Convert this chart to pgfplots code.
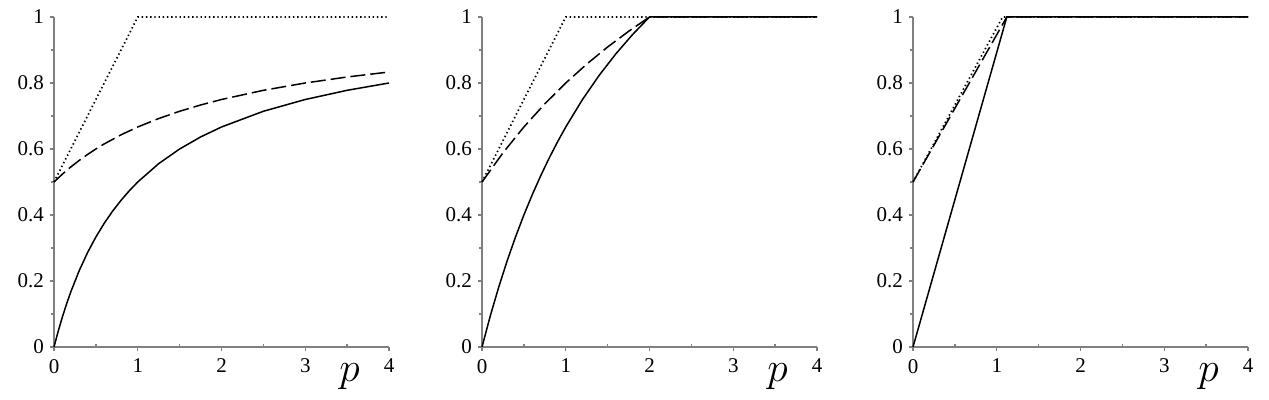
\documentclass[border=0pt]{standalone}
\usepackage{pgfplots}
\pgfplotsset{compat=1.18}
\usepackage{fontspec}
\setmainfont{Liberation Serif}
\definecolor{axisgray}{RGB}{128,128,128}
\pgfplotsset{
  panel/.style={
    scale only axis, width=167.5pt, height=165pt,
    xmin=0, xmax=4, ymin=0, ymax=1,
    axis x line*=bottom, axis y line*=left,
    axis line style={draw=axisgray, line width=1pt},
    xtick={0,1,2,3,4}, ytick={0,0.2,0.4,0.6,0.8,1},
    tick style={draw=axisgray, line width=0.7pt},
    tick align=outside, major tick length=2pt,
    extra x ticks={0.5,1.5,2.5,3.5}, extra x tick labels={},
    extra x tick style={tick align=inside, major tick length=1.5pt},
    extra y ticks={0.1,0.3,0.5,0.7,0.9}, extra y tick labels={},
    extra y tick style={tick align=outside, major tick length=1.5pt},
    /pgf/number format/assume math mode=true,
    xticklabel={\pgfmathprintnumber{\tick}},
    yticklabel={\pgfmathprintnumber{\tick}},
    ticklabel style={font=\rmfamily\fontsize{10.5}{12}\selectfont, text=black},
    yticklabel style={xshift=0.5pt},
    xticklabel style={yshift=-0.5pt},
    clip=false, anchor=south west,
  },
  sol/.style={black, line width=0.75pt},
  dsh/.style={black, line width=0.75pt, dash pattern=on 7.5pt off 2.5pt},
  dot/.style={black, line width=0.85pt, dash pattern=on 0.7pt off 1.4pt},
}
\begin{document}
\begin{tikzpicture}
\path[use as bounding box] (0,0) rectangle (634.5pt,200pt);
% Panel 1
\begin{axis}[panel, at={(27pt,26.5pt)}]
\addplot[sol] coordinates {(0,0) (0.05,0.0476) (0.1,0.0909) (0.15,0.1304) (0.2,0.1667) (0.3,0.2308) (0.4,0.2857) (0.5,0.3333) (0.6,0.375) (0.7,0.4118) (0.8,0.4444) (0.9,0.4737) (1,0.5) (1.25,0.5556) (1.5,0.6) (1.75,0.6364) (2,0.6667) (2.5,0.7143) (3,0.75) (3.5,0.7778) (4,0.8)};
\addplot[dsh] coordinates {(0,0.5) (0.1,0.5238) (0.2,0.5455) (0.3,0.5652) (0.4,0.5833) (0.5,0.6) (0.6,0.6154) (0.8,0.6429) (1,0.6667) (1.25,0.6923) (1.5,0.7143) (1.75,0.7333) (2,0.75) (2.5,0.7778) (3,0.8) (3.5,0.8182) (4,0.8333)};
\addplot[dot] coordinates {(0,0.5) (1,1) (4,1)};
\node[inner sep=0pt, font=\fontsize{20}{24}\selectfont] at (axis cs:3.53,-0.091) {$p$};
\end{axis}
% Panel 2
\begin{axis}[panel, at={(241pt,26.5pt)}]
\addplot[sol] coordinates {(0,0) (0.1,0.0952) (0.2,0.1818) (0.3,0.2609) (0.4,0.3333) (0.5,0.4) (0.6,0.4615) (0.7,0.5185) (0.8,0.5714) (0.9,0.6207) (1,0.6667) (1.2,0.75) (1.4,0.8235) (1.6,0.8889) (1.8,0.9474) (2,1) (4,1)};
\addplot[dsh] coordinates {(0,0.5) (0.25,0.5882) (0.5,0.6667) (0.75,0.7368) (1,0.8) (1.25,0.8571) (1.5,0.9091) (1.75,0.9565) (2,1) (4,1)};
\addplot[dot] coordinates {(0,0.5) (1,1) (4,1)};
\node[inner sep=0pt, font=\fontsize{20}{24}\selectfont] at (axis cs:3.53,-0.091) {$p$};
\end{axis}
% Panel 3
\begin{axis}[panel, at={(456.5pt,26.5pt)}]
\addplot[sol] coordinates {(0,0) (1.12,1) (4,1)};
\addplot[dsh] coordinates {(0,0.5) (1.12,1) (4,1)};
\addplot[dot] coordinates {(0,0.5) (1.07,1) (4,1)};
\node[inner sep=0pt, font=\fontsize{20}{24}\selectfont] at (axis cs:3.53,-0.091) {$p$};
\end{axis}
\end{tikzpicture}
\end{document}
